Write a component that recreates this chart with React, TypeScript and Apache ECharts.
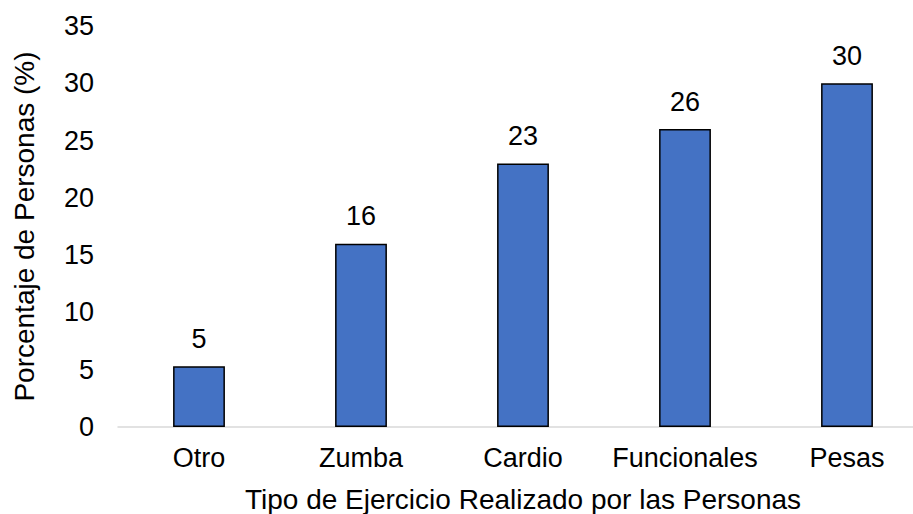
import React, { useEffect, useRef } from "react";
import * as echarts from "echarts";

const categories = ["Otro", "Zumba", "Cardio", "Funcionales", "Pesas"];
const percentages = [5.3, 16, 23, 26, 30];
const yAxisTitle = "Porcentaje de Personas (%)";
const xAxisTitle = "Tipo de Ejercicio Realizado por las Personas";

export default function App() {
  const ref = useRef<HTMLDivElement>(null);
  useEffect(() => {
    document.body.style.margin = "0";
    const chart = echarts.init(ref.current!, null, { renderer: "svg" });
    const font = "'Liberation Sans', Arial, sans-serif";
    const fs = 27;
    const titleFs = 28;
    chart.setOption({
      animation: false,
      backgroundColor: "#ffffff",
      textStyle: { fontFamily: font },
      grid: {
        left: 118,
        right: -15,
        top: 26,
        bottom: 87,
        containLabel: false,
        outerBoundsMode: "none",
      },
      xAxis: {
        type: "category",
        data: categories,
        axisLine: { lineStyle: { color: "#D9D9D9", width: 1.5 } },
        axisTick: { show: false },
        axisLabel: {
          color: "#000000",
          fontSize: fs,
          margin: 17,
          interval: 0,
          hideOverlap: false,
          fontFamily: font,
        },
        name: xAxisTitle,
        nameLocation: "middle",
        nameGap: 58,
        nameTextStyle: { color: "#000000", fontSize: titleFs, fontFamily: font },
      },
      yAxis: {
        type: "value",
        min: 0,
        max: 35,
        interval: 5,
        axisLine: { show: false },
        axisTick: { show: false },
        splitLine: { show: false },
        axisLabel: { color: "#000000", fontSize: fs, margin: 24, fontFamily: font },
        name: yAxisTitle,
        nameLocation: "middle",
        nameRotate: 90,
        nameGap: 80,
        nameTextStyle: { color: "#000000", fontSize: titleFs, fontFamily: font },
      },
      series: [
        {
          type: "bar",
          data: percentages,
          barWidth: "32%",
          itemStyle: { color: "#4472C4", borderColor: "#000000", borderWidth: 1.5 },
          label: {
            show: true,
            position: "top",
            distance: 14,
            color: "#000000",
            fontSize: fs,
            fontFamily: font,
            formatter: (p: any) => String(Math.round(p.value)),
          },
        },
      ],
    });
    return () => chart.dispose();
  }, []);
  return (
    <div
      ref={ref}
      style={{ position: "fixed", left: 0, top: 0, width: 913, height: 514 }}
    />
  );
}
